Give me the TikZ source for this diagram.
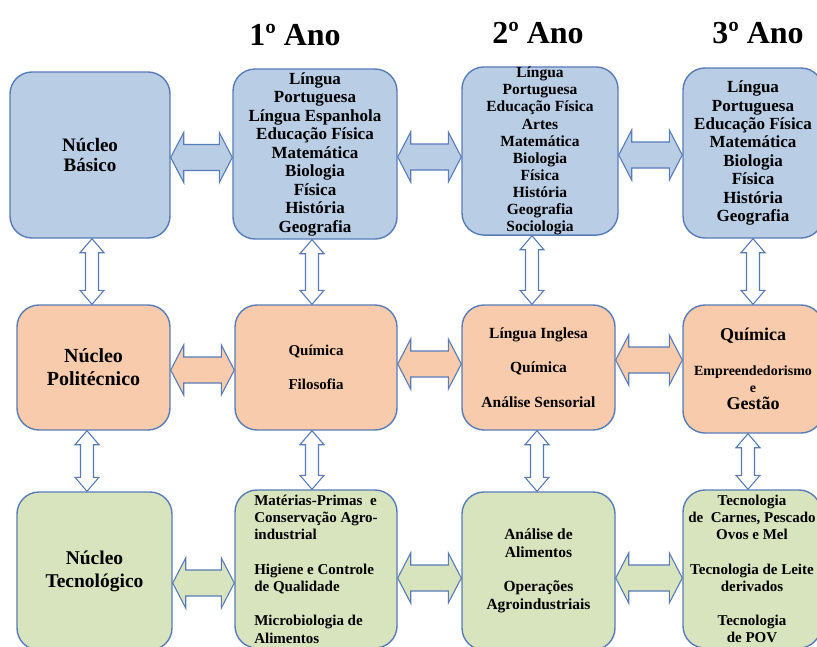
\documentclass[tikz,border=0pt]{standalone}
\usepackage{fontspec}
\setmainfont{Liberation Serif}
\usetikzlibrary{calc}

\definecolor{boxline}{RGB}{88,124,184}
\definecolor{bluefill}{RGB}{185,205,229}
\definecolor{orangefill}{RGB}{248,203,173}
\definecolor{greenfill}{RGB}{215,228,189}

\tikzset{
  box/.style={draw=boxline, line width=1.4pt, rounded corners=22pt, inner sep=0pt, align=center},
  bluebox/.style={box, fill=bluefill},
  orangebox/.style={box, fill=orangefill},
  greenbox/.style={box, fill=greenfill},
  txt/.style 2 args={font=\bfseries\fontsize{#1}{#2}\selectfont},
  yearlabel/.style={font=\bfseries\fontsize{32}{32}\selectfont},
  blockarrow/.style={draw=boxline, line width=1.1pt, line join=miter}
}

% horizontal block arrow: from, to, height, fill
\newcommand\hblock[4]{%
  \draw[blockarrow, fill=#4] let \p1=(#1.east), \p2=(#2.west), \p3=(0,#3) in
    (\x1,\y3) -- (\x1+13pt,\y3+25pt) -- (\x1+13pt,\y3+13pt) -- (\x2-13pt,\y3+13pt) -- (\x2-13pt,\y3+25pt) -- (\x2,\y3)
    -- (\x2-13pt,\y3-25pt) -- (\x2-13pt,\y3-13pt) -- (\x1+13pt,\y3-13pt) -- (\x1+13pt,\y3-25pt) -- cycle;}
% vertical block arrow: from, to, x
\newcommand\vblock[3]{%
  \draw[blockarrow, fill=white] let \p1=(#1.south), \p2=(#2.north), \p3=(#3,0) in
    (\x3,\y1) -- (\x3-12pt,\y1-14pt) -- (\x3-6.5pt,\y1-14pt) -- (\x3-6.5pt,\y2+14pt) -- (\x3-12pt,\y2+14pt) -- (\x3,\y2)
    -- (\x3+12pt,\y2+14pt) -- (\x3+6.5pt,\y2+14pt) -- (\x3+6.5pt,\y1-14pt) -- (\x3+12pt,\y1-14pt) -- cycle;}

\begin{document}
\begin{tikzpicture}[x=1pt,y=-1pt]
\path[use as bounding box, fill=white] (0,0) rectangle (817,646);

\node[yearlabel] (y1) at (295,35) {1º Ano};
\node[yearlabel] (y2) at (538,33) {2º Ano};
\node[yearlabel] (y3) at (758,33) {3º Ano};

% row 1
\node[bluebox, minimum width=160, minimum height=166, txt={19}{20.5}] (nb) at (90,155) {Núcleo\\Básico};
\node[bluebox, minimum width=164, minimum height=170, txt={17}{18.5}] (b1) at (315,154) {Língua\\Portuguesa\\Língua Espanhola\\Educação Física\\Matemática\\Biologia\\Física\\História\\Geografia};
\node[bluebox, minimum width=156, minimum height=165, txt={15.5}{17.1}] (b2) at (540,151) {Língua\\Portuguesa\\Educação Física\\Artes\\Matemática\\Biologia\\Física\\História\\Geografia\\Sociologia};
\node[bluebox, minimum width=140, minimum height=170, txt={17}{18.4}] (b3) at (753,153) {Língua\\Portuguesa\\Educação Física\\Matemática\\Biologia\\Física\\História\\Geografia};

% row 2
\node[orangebox, minimum width=153, minimum height=125, txt={20}{23}] (np) at (93.5,367.5) {Núcleo\\Politécnico};
\node[orangebox, minimum width=162, minimum height=125, txt={15}{17.5}] (p1) at (316,367.5) {Química\\[17pt]Filosofia};
\node[orangebox, minimum width=153, minimum height=125, txt={15.5}{17.25}] (p2) at (538.5,367.5) {Língua Inglesa\\[17pt]Química\\[17pt]Análise Sensorial};
\node[orangebox, minimum width=140, minimum height=128, txt={14}{17}] (p3) at (753,369) {{\fontsize{18}{18}\selectfont Química}\\[18pt]Empreendedorismo\\e\\{\fontsize{18}{18}\selectfont Gestão}};

% row 3
\node[greenbox, minimum width=155, minimum height=158, txt={19.5}{23}] (nt) at (94.5,571) {Núcleo\\Tecnológico};
\node[greenbox, minimum width=162, minimum height=158, txt={15}{17.3}, align=left] (t1) at (316,569) {Matérias-Primas \ e\\ Conservação Agro-\\industrial\\[17pt]Higiene e Controle\\de Qualidade\\[17pt]Microbiologia de\\Alimentos};
\node[greenbox, minimum width=153, minimum height=158, txt={15.5}{17.5}] (t2) at (538.5,571) {Análise de\\Alimentos\\[17pt]Operações\\Agroindustriais};
\node[greenbox, minimum width=138, minimum height=158, txt={15}{17.2}] (t3) at (752,569) {Tecnologia\\de \ Carnes, Pescado\\Ovos e Mel\\[17pt]Tecnologia de Leite\\derivados\\[17pt]Tecnologia\\de POV};

\foreach \from/\to/\h/\f in {nb/b1/157.5/bluefill, b1/b2/157/bluefill, b2/b3/155/bluefill,
    np/p1/370/orangefill, p1/p2/364/orangefill, p2/p3/360/orangefill,
    nt/t1/583/greenfill, t1/t2/578/greenfill, t2/t3/578/greenfill}
  {\hblock{\from}{\to}{\h}{\f}}

\foreach \from/\to/\px in {nb/np/92, b1/p1/312, b2/p2/532, b3/p3/753,
    np/nt/87, p1/t1/312, p2/t2/537, p3/t3/748}
  {\vblock{\from}{\to}{\px}}
\end{tikzpicture}
\end{document}
